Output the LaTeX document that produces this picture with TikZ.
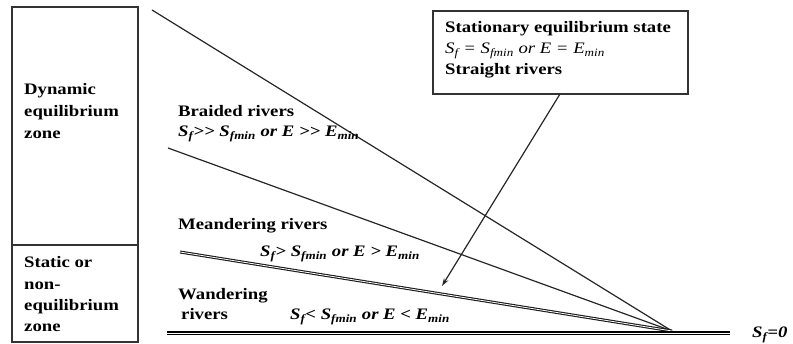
\documentclass[tikz,border=0pt]{standalone}
\usepackage{fontspec}
\setmainfont{Liberation Serif}[FakeStretch=1.17]
\usetikzlibrary{arrows.meta}
\newcommand{\ssub}[1]{\textsubscript{#1}}
\begin{document}
\begin{tikzpicture}[x=1pt,y=-1pt,
  lbl/.style={anchor=base west,inner sep=0pt,font=\fontsize{16}{18}\selectfont\bfseries},
  frm/.style={anchor=base west,inner sep=0pt,font=\fontsize{16}{18}\selectfont\bfseries\itshape},
  frmn/.style={anchor=base west,inner sep=0pt,font=\fontsize{16}{18}\selectfont\itshape},
  ln/.style={line width=1.2pt,black!85},
  frame/.style={draw=black!80,line width=1.2pt},
  dbl/.style={double=white,line width=1.1pt,double distance=0.8pt,black!90},
  dblthick/.style={double=white,line width=2pt,double distance=0.8pt,black}]
\useasboundingbox (0,0) rectangle (793,344);
% left zone box
\draw[frame] (12,7) rectangle (138,342);
\coordinate (dl) at (12,245);
\coordinate (dr) at (138,245);
\draw[frame] (dl) -- (dr);
\node[lbl] (d1) at (24,95) {Dynamic};
\node[lbl] (d2) at (24,117) {equilibrium};
\node[lbl] (d3) at (24,139) {zone};
\node[lbl] (s1) at (24,268) {Static or};
\node[lbl] (s2) at (24,290) {non-};
\node[lbl] (s3) at (24,311) {equilibrium};
\node[lbl] (s4) at (24,332) {zone};
% lines
\coordinate (c) at (672,331);
\coordinate (t0) at (152,10);
\coordinate (b0) at (168,148);
\coordinate (m0) at (180,252);
\coordinate (w0) at (167,333);
\coordinate (w1) at (730,333);
\draw[ln] (t0) -- (c);
\draw[ln] (b0) -- (c);
\draw[dbl] (m0) -- (c);
\draw[dblthick] (w0) -- (w1);
% labels
\node[lbl] (br) at (178,117) {Braided rivers};
\node[frm] (brf) at (178,137) {S\ssub{f}{>}{>} S\ssub{fmin} or E {>}{>} E\ssub{min}};
\node[lbl] (me) at (178,230) {Meandering rivers};
\node[frm] (mef) at (260,257) {S\ssub{f}{>} S\ssub{fmin} or E {>} E\ssub{min}};
\node[lbl] (wa1) at (178,300) {Wandering};
\node[lbl] (wa2) at (181,320) {rivers};
\node[frm] (waf) at (290,320) {S\ssub{f}{<} S\ssub{fmin} or E {<} E\ssub{min}};
\node[frm] (sf0) at (752,338) {S\ssub{f}=0};
% stationary box
\draw[frame] (433,11) rectangle (688,94);
\node[lbl] (st1) at (445,33) {Stationary equilibrium state};
\node[frmn] (st2) at (445,54) {S\ssub{f} = S\ssub{fmin} or E = E\ssub{min}};
\node[lbl] (st3) at (445,75) {Straight rivers};
\coordinate (a0) at (560,94);
\coordinate (a1) at (442,286);
\draw[ln,-{Stealth[length=8pt,width=5pt]}] (a0) -- (a1);
\end{tikzpicture}
\end{document}
